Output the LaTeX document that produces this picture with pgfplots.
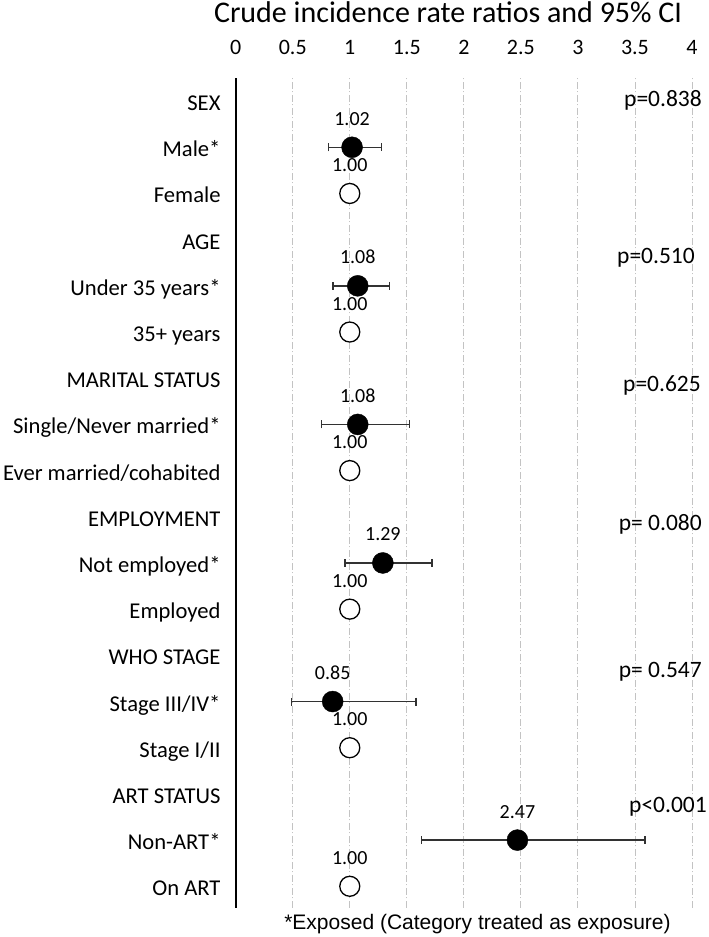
\documentclass[border=0pt]{standalone}
\usepackage{fontspec}
\setmainfont{Carlito}
\newfontfamily\arialf{Liberation Sans}
\usepackage{pgfplots}
\pgfplotsset{compat=1.18}
\usepackage{pgfplotstable}
\definecolor{gridgray}{RGB}{195,195,195}
\definecolor{errgray}{RGB}{50,50,50}

\pgfplotstableread{
x y em ep lab
1.02 -1 0.205 0.256 1.02
1.07 -4 0.215 0.280 1.08
1.07 -7 0.316 0.455 1.08
1.29 -10 0.330 0.430 1.29
0.85 -13 0.360 0.730 0.85
2.47 -16 0.840 1.120 2.47
}\exposed

\pgfplotstableread{
x y lab
1.00 -2 1.00
1.00 -5 1.00
1.00 -8 1.00
1.00 -11 1.00
1.00 -14 1.00
1.00 -17 1.00
}\reference

\begin{document}
\begin{tikzpicture}
\path[use as bounding box] (0pt,0pt) rectangle (709pt,937pt);
\begin{axis}[
  at={(463.85pt,444pt)}, anchor=center,
  scale only axis, width=456.3pt, height=830pt,
  xmin=0, xmax=4, ymin=-17.47, ymax=0.5,
  axis y line=left, axis x line=top,
  x axis line style={draw=none},
  y axis line style={-, line width=1.6pt, black},
  major tick length=0pt,
  xtick={0,0.5,1,1.5,2,2.5,3,3.5,4},
  xticklabels={0,0.5,1,1.5,2,2.5,3,3.5,4},
  xticklabel style={font=\fontsize{22}{25}\selectfont, anchor=base, yshift=23pt, inner sep=0pt},
  ytick={-17,-16,-15,-14,-13,-12,-11,-10,-9,-8,-7,-6,-5,-4,-3,-2,-1,0},
  yticklabels={On ART, Non-ART*, ART STATUS, Stage I/II, Stage III/IV*, WHO STAGE, Employed, Not employed*, EMPLOYMENT, Ever married/cohabited, Single/Never married*, MARITAL STATUS, 35+ years, Under 35 years*, AGE, Female, Male*, SEX},
  yticklabel style={font=\fontsize{22.6}{26}\selectfont, anchor=base east, inner sep=0pt, xshift=-15pt, yshift=-9.5pt},
  xmajorgrids,
  major grid style={draw=gridgray, line width=0.9pt, dash pattern=on 7pt off 2.5pt on 1pt off 2.5pt},
  clip=false,
  /pgf/number format/assume math mode=true,
]
\addplot[only marks, mark=*, mark size=10.5pt, mark options={fill=black, draw=black},
  error bars/.cd, x dir=both, x explicit,
  error bar style={draw=errgray, line width=1.5pt},
  error mark options={draw=errgray, line width=1.5pt, mark size=4pt, rotate=90}]
  table[x=x, y=y, x error minus=em, x error plus=ep] {\exposed};
\addplot[only marks, mark=*, mark size=10pt, mark options={fill=white, draw=black, line width=1.3pt},
  nodes near coords, point meta=explicit symbolic,
  nodes near coords style={font=\fontsize{20}{22}\selectfont, anchor=base, yshift=22pt, inner sep=0pt, text=black}]
  table[x=x, y=y, meta=lab] {\reference};
\addplot[only marks, mark=none,
  nodes near coords, point meta=explicit symbolic,
  nodes near coords style={font=\fontsize{20}{22}\selectfont, anchor=base, yshift=22pt, inner sep=0pt, text=black}]
  table[x=x, y=y, meta=lab] {\exposed};
\end{axis}
\node[anchor=base, inner sep=0pt, font=\fontsize{30}{34}\selectfont] at (448pt,914.3pt) {Crude incidence rate ratios and 95\% CI};
\begin{scope}[every node/.style={anchor=base east, inner sep=0pt, font=\fontsize{23.5}{26}\selectfont}]
\node at (702pt,830pt) {p=0.838};
\node at (695pt,673.7pt) {p=0.510};
\node at (701pt,545.3pt) {p=0.625};
\node at (702pt,406.3pt) {p= 0.080};
\node at (702pt,259.7pt) {p= 0.547};
\node at (707pt,124.3pt) {p<0.001};
\end{scope}
\node[anchor=base, inner sep=0pt, font=\arialf\fontsize{21}{24}\selectfont] at (477.5pt,7pt) {*Exposed (Category treated as exposure)};
\end{tikzpicture}
\end{document}
